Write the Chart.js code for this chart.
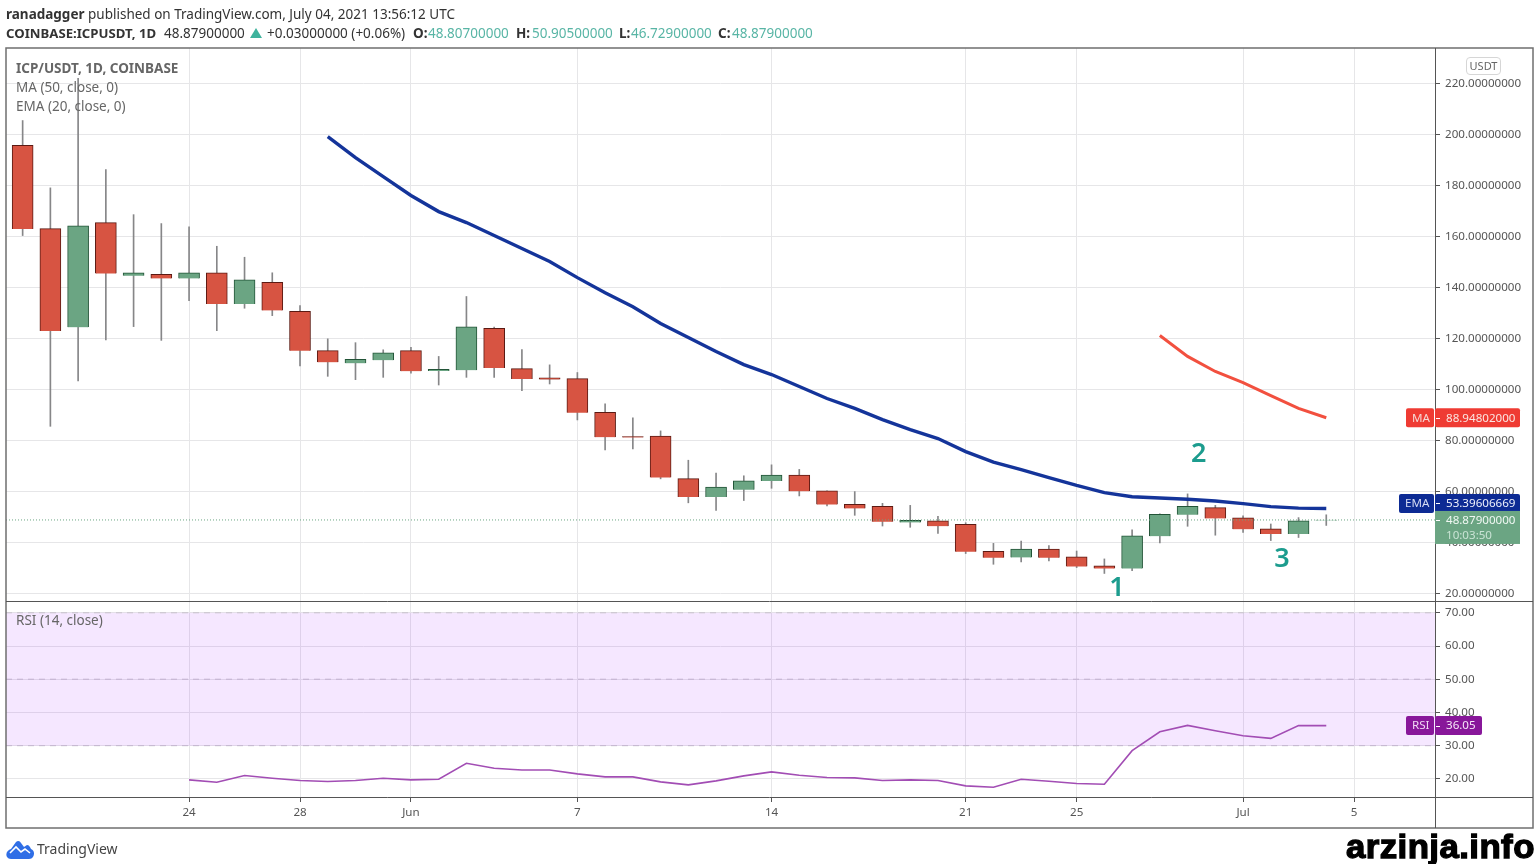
<!DOCTYPE html>
<html><head><meta charset="utf-8">
<title>ICP/USDT</title>
<script src="https://cdn.jsdelivr.net/npm/chart.js@4"></script>
<style>
html,body{margin:0;padding:0;background:#fff;width:1539px;height:864px;overflow:hidden}
body{position:relative;font-family:"Noto Sans",sans-serif;color:#333}
canvas{position:absolute;left:0;top:0}
.t{position:absolute;white-space:nowrap;line-height:16px;font-size:13.5px}
.b{font-weight:700}.v{color:#58b5a5}.g{color:#666}
</style></head><body>
<canvas id="c" width="1539" height="864"></canvas>
<div class="t" style="left:6px;top:6px"><span class="b">ranadagger</span> published on TradingView.com, July 04, 2021 13:56:12 UTC</div>
<div class="t b" style="left:6px;top:25px;font-size:13.2px">COINBASE:ICPUSDT, 1D</div>
<div class="t" style="left:164px;top:25px">48.87900000</div>
<svg style="position:absolute;left:250px;top:28px" width="12" height="10"><path d="M6 0L12 10H0Z" fill="#3fb39d"/></svg>
<div class="t" style="left:267px;top:25px">+0.03000000 (+0.06%)</div>
<div class="t b" style="left:413px;top:25px">O:</div><div class="t v" style="left:428px;top:25px">48.80700000</div>
<div class="t b" style="left:516px;top:25px">H:</div><div class="t v" style="left:532px;top:25px">50.90500000</div>
<div class="t b" style="left:619px;top:25px">L:</div><div class="t v" style="left:631px;top:25px">46.72900000</div>
<div class="t b" style="left:718px;top:25px">C:</div><div class="t v" style="left:732px;top:25px">48.87900000</div>
<div class="t b g" style="left:16px;top:60px">ICP/USDT, 1D, COINBASE</div>
<div class="t g" style="left:16px;top:79px">MA (50, close, 0)</div>
<div class="t g" style="left:16px;top:98px">EMA (20, close, 0)</div>
<div class="t g" style="left:16px;top:612px">RSI (14, close)</div>
<div class="t g" style="left:1466px;top:57px;width:33px;height:16px;border:1px solid #d6d6d6;border-radius:4px;text-align:center;font-size:11px">USDT</div>
<svg style="position:absolute;left:6px;top:840px" width="29" height="19" viewBox="0 0 29 19"><path d="M1 17C-1 13 2 10 5 9L10 2C12 0 14 1 15 3L18 7 21 5C23 5 24 7 25 9 28 10 29 14 27 17 26 18 25 19 23 19H5C3 19 2 18 1 17Z" fill="#2f6ee6"/><path d="M4 13L10 7 15 12 19 9 24 13" fill="none" stroke="#fff" stroke-width="1.6"/></svg>
<div class="t" style="left:37px;top:841px;font-size:14px;color:#444">TradingView</div>
<div style="position:absolute;left:1346px;top:828px;font:700 33px/38px 'Liberation Sans',sans-serif;color:#000;white-space:nowrap;-webkit-text-stroke:1.3px #000;letter-spacing:.4px;transform:scaleX(1.055);transform-origin:left center">arzinja.info</div>
<script>
const dates=['May 18','May 19','May 20','May 21','May 22','May 23','May 24','May 25','May 26','May 27','May 28','May 29','May 30','May 31','Jun 1','Jun 2','Jun 3','Jun 4','Jun 5','Jun 6','Jun 7','Jun 8','Jun 9','Jun 10','Jun 11','Jun 12','Jun 13','Jun 14','Jun 15','Jun 16','Jun 17','Jun 18','Jun 19','Jun 20','Jun 21','Jun 22','Jun 23','Jun 24','Jun 25','Jun 26','Jun 27','Jun 28','Jun 29','Jun 30','Jul 1','Jul 2','Jul 3','Jul 4'];
const open=[195.8,163.1,124.4,165.5,144.6,145.2,143.6,145.8,133.6,142.1,130.7,115.3,110.3,111.5,115.3,107.3,107.6,124.0,108.2,104.6,104.3,91.1,81.6,81.8,65.1,57.9,60.7,64.2,66.5,60.3,55.0,54.2,47.9,48.5,47.2,36.6,34.2,37.5,34.4,30.9,29.8,42.5,50.9,53.7,49.7,45.4,43.4,48.807];
const close=[163.0,123.0,164.2,145.5,145.8,143.6,145.8,133.6,143.0,131.0,115.2,110.7,111.9,114.4,107.2,107.9,124.6,108.5,104.2,104.1,90.9,81.3,81.2,65.5,57.9,61.8,64.2,66.5,60.1,54.9,53.4,48.2,48.7,46.4,36.4,34.1,37.5,34.1,30.6,29.8,42.7,51.1,54.2,49.5,45.2,43.4,48.5,48.879];
const high=[205.5,179.1,222.1,186.3,168.6,165.1,163.8,156.2,151.9,145.8,132.9,119.9,118.4,115.6,116.6,113.0,136.5,124.5,115.7,109.7,106.7,94.4,88.9,83.8,72.3,67.3,66.2,70.5,68.7,60.3,60.0,55.4,54.6,50.3,47.8,39.7,40.6,38.8,36.7,33.6,45.0,51.3,59.1,54.6,50.5,47.3,49.8,50.905];
const low=[160.4,85.6,103.4,119.5,124.7,119.3,134.9,123.1,131.9,129.0,109.3,105.2,103.9,104.8,106.4,101.8,104.8,104.8,99.6,102.2,88.1,76.3,76.7,65.0,55.6,52.6,56.5,61.3,58.3,54.4,50.7,46.5,46.0,43.6,35.7,31.5,32.4,32.8,30.2,27.9,29.0,39.9,46.4,42.9,44.0,40.8,42.0,46.729];
const emaFirstDay=11;
const emaValues=[199.2,191.0,183.5,176.1,169.8,165.5,160.4,155.3,150.2,143.9,138.0,132.5,125.9,120.4,114.9,109.8,105.9,101.2,96.5,92.6,88.2,84.3,80.8,75.7,71.6,68.6,65.5,62.4,59.6,58.0,57.5,57.0,56.3,55.3,54.1,53.5,53.39606669];
const maFirstDay=41;
const maValues=[121.2,113.0,107.1,102.7,97.6,92.6,88.94802];
const rsiFirstDay=6;
const rsiValues=[19.7,19.0,21.0,20.2,19.5,19.2,19.5,20.2,19.7,19.9,24.7,23.2,22.7,22.7,21.5,20.6,20.6,19.1,18.2,19.4,20.9,22.1,21.1,20.4,20.3,19.5,19.7,19.5,17.9,17.5,19.9,19.3,18.6,18.4,28.5,34.2,36.1,34.5,33.0,32.2,36.05,36.05];
const priceTicks=[20,40,60,80,100,120,140,160,180,200,220];
const rsiTicks=[20,30,40,50,60,70];
const xTickDays=[6,10,14,20,27,34,38,44,48];
const xTickLabels=['24','28','Jun','7','14','21','25','Jul','5'];
const waveLabels=['1','2','3'];
const waveDays=[39.45,42.4,45.4];
const wavePrices=[21.9,74.5,33.3];

const xMin=-0.6,xMax=50.92;
const upFill='#6ba583',downFill='#d75442',upEdge='#225437',downEdge='#5b1a13',wickCol='#868688';
const isUp=dates.map((_,i)=>close[i]>=open[i]);
const font={family:'"Noto Sans",sans-serif',size:11.6};
const series=(first,vals)=>vals.map((y,i)=>({x:first+i,y}));
const hline=v=>[{x:xMin,y:v},{x:xMax,y:v}];
const gridCol='#e6e6e8';

function badge(ctx,scale,value,text,left,right,h,bg,fg,shift=0){
  const y=scale.getPixelForValue(value)+shift;
  ctx.fillStyle=bg;
  ctx.beginPath();ctx.roundRect(left,y-h/2,right-left,h,2);ctx.fill();
  ctx.fillStyle=fg;ctx.textBaseline='middle';ctx.textAlign='left';
  ctx.fillText(text,left+ (right-left>40?11:6),y+0.5);
}
const overlay={id:'overlay',afterDraw(ch){
  const c=ch.ctx,y=ch.scales.y,r=ch.scales.rsi,x=ch.scales.x,a=ch.chartArea;
  c.save();
  c.strokeStyle='#6f6f6f';c.lineWidth=1.5;
  c.strokeRect(a.left,a.top,y.right-a.left,x.bottom-a.top);
  c.lineWidth=1;c.strokeStyle='#555';
  c.beginPath();c.moveTo(a.left,y.bottom+.5);c.lineTo(y.right,y.bottom+.5);
  c.moveTo(a.right+.5,a.top);c.lineTo(a.right+.5,x.bottom);
  c.moveTo(a.left,x.top+.5);c.lineTo(y.right,x.top+.5);c.stroke();
  c.font='11.6px "Noto Sans",sans-serif';
  const L=a.right, lastMa=maValues[maValues.length-1], lastEma=emaValues[emaValues.length-1], lastRsi=rsiValues[rsiValues.length-1], lastClose=close[close.length-1];
  const emaShift=-5;
  badge(c,y,lastMa,'MA',L-29,L-1,19,'#ef3b33','#f6d6d2');
  badge(c,y,lastMa,lastMa.toFixed(8),L,L+85,19,'#ef3b33','#fbe6e2');
  badge(c,y,lastEma,'EMA',L-36,L-1,19,'#0d2b94','#d5dbf3',emaShift);
  badge(c,y,lastEma,lastEma.toFixed(8),L,L+85,19,'#0d2b94','#eef1fb',emaShift);
  const py=y.getPixelForValue(lastClose);
  c.fillStyle='#6ba583';c.fillRect(L,py-9,85,33);
  c.textBaseline='middle';c.textAlign='left';c.fillStyle='#f0f8f3';c.fillText(lastClose.toFixed(8),L+11,py+1);
  c.fillStyle='#c9e3d4';c.fillText('10:03:50',L+11,py+16);
  badge(c,r,lastRsi,'RSI',L-29,L-1,19,'#88179a','#f0d9f4');
  badge(c,r,lastRsi,lastRsi.toFixed(2),L,L+47,19,'#88179a','#f7e8f9');
  c.fillStyle='#fff';
  [[y,lastMa,0],[y,lastEma,emaShift],[y,lastClose,0],[r,lastRsi,0]].forEach(([s,v,d])=>c.fillRect(L+1,Math.round(s.getPixelForValue(v)+d),4,1));
  c.fillStyle='#1c9c8e';c.font='600 27px "Noto Sans",sans-serif';c.textAlign='center';c.textBaseline='middle';
  waveLabels.forEach((t,i)=>c.fillText(t,x.getPixelForValue(waveDays[i]),y.getPixelForValue(wavePrices[i])));
  c.restore();
}};
new Chart(document.getElementById('c'),{
  type:'bar',
  plugins:[overlay],
  data:{datasets:[
    {type:'line',label:'EMA',data:series(emaFirstDay,emaValues),yAxisID:'y',borderColor:'#14349a',borderWidth:3.4,pointRadius:0,tension:0,order:0},
    {type:'line',label:'MA',data:series(maFirstDay,maValues),yAxisID:'y',borderColor:'#f2503f',borderWidth:3,pointRadius:0,tension:0,order:0},
    {type:'line',label:'Last',data:hline(close[close.length-1]),yAxisID:'y',borderColor:'#6ba583',borderWidth:1,borderDash:[1,2],pointRadius:0,order:0},
    {type:'bar',label:'Body',data:dates.map((_,i)=>({x:i,y:[open[i],close[i]]})),yAxisID:'y',grouped:false,barThickness:21,borderWidth:1,
      backgroundColor:isUp.map(u=>u?upFill:downFill),borderColor:isUp.map(u=>u?upEdge:downEdge),order:1},
    {type:'bar',label:'Wick',data:dates.map((_,i)=>({x:i,y:[low[i],high[i]]})),yAxisID:'y',grouped:false,barThickness:1,backgroundColor:wickCol,order:2},
    {type:'line',label:'RSI',data:series(rsiFirstDay,rsiValues),yAxisID:'rsi',borderColor:'#a24db4',borderWidth:1.6,pointRadius:0,tension:0,order:0},
    {type:'line',label:'RSI 70',data:hline(70),yAxisID:'rsi',borderColor:'#c6c2ca',borderWidth:1,borderDash:[6,5],pointRadius:0,fill:{target:{value:30}},backgroundColor:'rgba(153,21,255,0.1)',order:3},
    {type:'line',label:'RSI 50',data:hline(50),yAxisID:'rsi',borderColor:'#c6c2ca',borderWidth:1,borderDash:[6,5],pointRadius:0,order:3},
    {type:'line',label:'RSI 30',data:hline(30),yAxisID:'rsi',borderColor:'#c6c2ca',borderWidth:1,borderDash:[6,5],pointRadius:0,order:3}
  ]},
  options:{
    responsive:false,animation:false,devicePixelRatio:1,
    layout:{padding:{left:6,top:48,right:6,bottom:36}},
    plugins:{legend:{display:false},tooltip:{enabled:false}},
    scales:{
      x:{type:'linear',min:xMin,max:xMax,bounds:'data',offset:false,
        grid:{offset:false,color:gridCol,tickColor:'#555',tickLength:5},border:{display:false},
        afterBuildTicks(s){s.ticks=xTickDays.map(v=>({value:v}));},
        afterFit(s){s.height=31;},
        ticks:{autoSkip:false,maxRotation:0,padding:4,font,color:'#555',callback:(v,i)=>xTickLabels[i]}},
      y:{type:'linear',position:'right',stack:'pane',stackWeight:553,weight:1,min:17.1,max:233.95,bounds:'data',
        grid:{color:gridCol,tickColor:'#555',tickLength:5},border:{display:false},
        afterBuildTicks(s){s.ticks=priceTicks.map(v=>({value:v}));},
        afterFit(s){s.width=98;},
        ticks:{autoSkip:false,padding:5,font,color:'#555',callback:v=>v.toFixed(8)}},
      rsi:{type:'linear',position:'right',stack:'pane',stackWeight:196,weight:2,min:14.55,max:73.55,bounds:'data',
        grid:{color:gridCol,tickColor:'#555',tickLength:5},border:{display:false},
        afterBuildTicks(s){s.ticks=rsiTicks.map(v=>({value:v}));},
        afterFit(s){s.width=98;},
        ticks:{autoSkip:false,padding:5,font,color:'#555',callback:v=>v.toFixed(2)}}
    }
  }
});
</script>
</body></html>
